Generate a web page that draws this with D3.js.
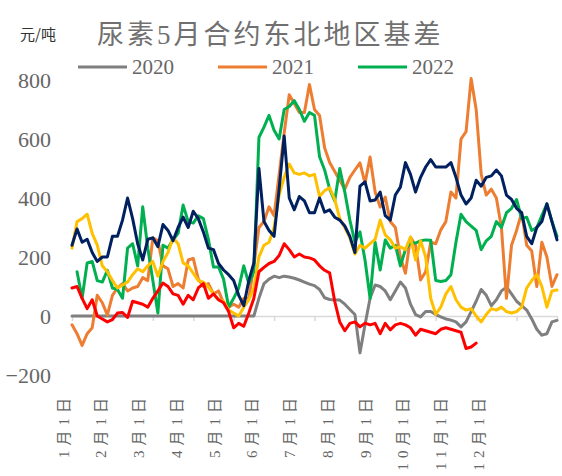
<!DOCTYPE html>
<html><head><meta charset="utf-8">
<script src="https://cdn.jsdelivr.net/npm/d3@7"></script>
<style>body{margin:0;background:#fff} svg{display:block}</style>
</head><body><svg id="c" width="562" height="476"></svg>
<script>
const monthLabels = ["1月1日","2月1日","3月1日","4月1日","5月1日","6月1日","7月1日","8月1日","9月1日","10月1日","11月1日","12月1日"];
const yTickValues = [800,600,400,200,0,-200];
const legendNames = ["2020","2021","2022"];

// values sampled every 1/8 month from 1月1日
const v2020 = [0,0,0,0,0,0,0,0,0,0, 0,0,0,0,0,0,0,0,0,0, 0,0,0,0,0,0,0,0,0,0, 0,0,0,0,0,0,0,
  60,110,125,135,130,135,132,128,122,115,108,103,90,62,56,54,54,40,22,5,-125,-30,60,105,100,85,55,85,115,95,40,5,-3,15,15,5,-3,-10,-14,-20,-37,-20,15,50,90,70,35,55,85,98,75,50,35,20,-10,-45,-65,-60,-20,-15];
const v2021 = [-30,-60,-100,-60,-40,70,45,3,70,95, 110,85,95,100,130,120,265,255,170,160, 100,110,95,190,195,125,100,110,75,85, 45,30,40,30,60,60,170,300,320,370, 340,480,620,750,720,690,690,785,700,680, 570,520,490,460,430,470,495,519,450,539, 420,369,403,320,300,200,145,267,240,122, 150,250,245,292,320,420,400,600,625,805, 700,480,410,430,400,300,60,240,290,350, 240,220,100,250,200,100,140];
const v2022 = [null,150,60,180,185,120,115,155,95,90, 60,230,245,170,370,230,120,10,240,230, 258,280,376,320,315,340,330,260,166,166, 125,30,60,95,170,110,150,605,640,680, 630,600,700,710,730,700,660,690,680,540, 495,430,390,500,420,325,250,285,190,60, 250,156,258,230,240,170,225,250,247,255, 258,257,120,117,120,140,250,345,320,305, 290,225,255,270,320,300,350,365,395,330, 335,290,300,340,380,320,270];
const v2023 = [230,320,330,345,280,240,170,150,120,95, 105,115,140,160,150,170,185,135,185,215, 265,245,180,170,145,120,115,98,75,55, 50,20,10,0,30,55,95,200,240,250, 300,410,470,515,485,480,485,475,480,405, 425,435,395,330,300,265,210,240,230,245, 260,325,275,258,230,235,225,268,190,255, 200,60,5,30,75,100,55,30,20,25, 0,-20,5,25,20,30,15,10,15,30, 95,120,140,100,30,85,88];
const v2024 = [240,295,250,260,215,185,200,200,270,270, 325,400,330,245,190,260,265,235,310,290, 255,300,335,300,355,330,285,230,225,178, 156,140,120,70,35,120,180,500,320,290, 270,430,610,400,360,405,390,350,350,400, 352,360,335,325,305,270,215,440,455,390, 393,420,340,325,410,437,520,480,420,470, 505,530,505,505,505,520,470,410,380,400, 460,440,470,475,495,475,410,395,365,350, 270,245,300,320,380,320,258];
const v2025 = [95,100,60,25,55,0,-10,-20,-12,10, 12,-5,50,45,40,30,60,85,112,100, 75,70,40,70,55,95,110,60,75,55, 45,15,-40,-25,-35,10,60,150,165,178, 185,205,245,225,200,210,200,197,190,170, 155,146,50,-20,-50,-25,-20,-37,-24,-30, -25,-60,-25,-47,-30,-25,-30,-40,-65,-45, -50,-55,-60,-45,-40,-45,-50,-55,-110,-105, -92];

const seriesList = [
  {name:"2020", values:v2020, color:"#7F7F7F"},
  {name:"2021", values:v2021, color:"#ED7D31"},
  {name:"2022", values:v2022, color:"#00B050"},
  {name:"2023", values:v2023, color:"#FFC000"},
  {name:"2024", values:v2024, color:"#002060"},
  {name:"2025", values:v2025, color:"#FF0000"}
];
const step = 1/8;
const numFont = "'Liberation Serif','Noto Sans CJK SC',serif";
const textGray = "#666666";

const svg = d3.select("#c");
svg.append("rect").attr("width",562).attr("height",476).attr("fill","#fff");

const x = d3.scaleLinear().domain([0,12]).range([72,557]);
const y = d3.scaleLinear().domain([-200,800]).range([375,80]);
const xl = d3.scalePoint().domain(monthLabels).range([63,478]);

// title
svg.append("text").attr("x",97).attr("y",44)
  .attr("font-family",numFont).attr("font-size",27).attr("letter-spacing",3)
  .attr("fill","#707070").text("尿素5月合约东北地区基差");
svg.append("text").attr("x",20).attr("y",40)
  .attr("font-family","'Noto Sans CJK SC',sans-serif").attr("font-size",15)
  .attr("fill","#333").text("元/吨");

// y axis labels
const ya = svg.append("g").attr("transform","translate(51,0)")
  .call(d3.axisLeft(y).tickValues(yTickValues).tickSize(0).tickPadding(0));
ya.select(".domain").remove();
ya.selectAll("text").attr("font-family",numFont).attr("font-size",22).attr("fill",textGray).attr("dy","0.35em");

// x axis line + ticks
const xa = svg.append("g").attr("transform",`translate(0,${y(0)})`)
  .call(d3.axisBottom(x).tickValues(d3.range(0,13)).tickSize(5).tickSizeOuter(0).tickFormat(""));
xa.select(".domain").attr("stroke","#D9D9D9").attr("stroke-width",1.5);
xa.selectAll(".tick line").attr("stroke","#D9D9D9").attr("stroke-width",1.5);

// x labels
const xla = svg.append("g").attr("transform","translate(0,393)")
  .call(d3.axisBottom(xl).tickSize(0));
xla.select(".domain").remove();
xla.selectAll("text").attr("transform","rotate(-90)").attr("x",0).attr("y",0).attr("dy","0.35em")
  .attr("text-anchor","end").attr("font-family",numFont).attr("font-size",15)
  .attr("letter-spacing",5).attr("fill",textGray);

// lines
const line = d3.line().defined(d => d.v != null).x(d => x(d.m)).y(d => y(d.v));
svg.append("g").selectAll("path").data(seriesList).join("path")
  .attr("d", s => line(s.values.map((v,i) => ({m:i*step, v}))))
  .attr("fill","none").attr("stroke", s => s.color).attr("stroke-width",3)
  .attr("stroke-linejoin","round").attr("stroke-linecap","round");

// legend
const lg = svg.append("g").selectAll("g").data(seriesList.filter(s => legendNames.includes(s.name))).join("g")
  .attr("transform",(d,i) => `translate(${78 + i*140},67)`);
lg.append("line").attr("x1",0).attr("x2",49).attr("y1",0).attr("y2",0)
  .attr("stroke",d => d.color).attr("stroke-width",3);
lg.append("text").attr("x",54).attr("y",0).attr("dy","0.35em")
  .attr("font-family",numFont).attr("font-size",21).attr("fill",textGray).text(d => d.name);
</script></body></html>
